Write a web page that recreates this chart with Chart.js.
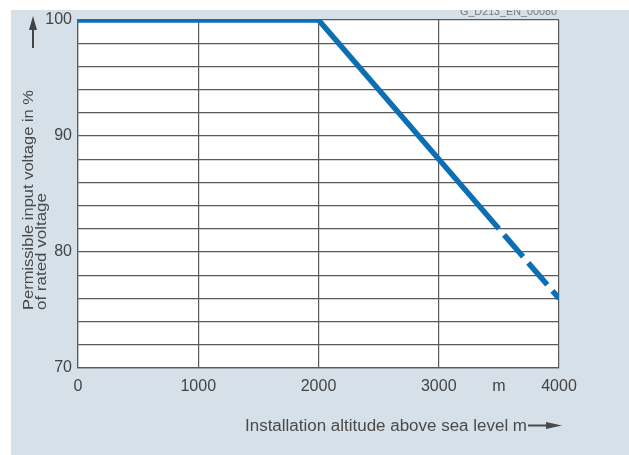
<!DOCTYPE html>
<html>
<head>
<meta charset="utf-8">
<script src="https://cdn.jsdelivr.net/npm/chart.js@4/dist/chart.umd.min.js"></script>
<style>
  html, body { margin: 0; padding: 0; background: #fff; }
  #wrap { width: 629px; height: 455px; }
</style>
</head>
<body>
<div id="wrap"><canvas id="grafico" width="629" height="455"></canvas></div>
<script>
// altitude in m, permissible input voltage in % of rated voltage
const altSolid = [0, 2000, 3500];
const voltSolid = [100, 100, 82];
const altDashed = [3500, 4000];
const voltDashed = [82, 76];
const xTicks = [0, 1000, 2000, 3000, 4000];
const yTicks = [70, 80, 90, 100];

const azul = '#0c6fb3';
const gris = '#5a5a5a';
const fuente = '"Liberation Sans", Arial, sans-serif';

function puntos(xs, ys) {
  return xs.map((x, i) => ({ x: x, y: ys[i] }));
}

// texto estirado para ocupar un ancho dado
function textoAncho(c, txt, x, y, ancho) {
  const w = c.measureText(txt).width;
  c.save();
  c.translate(x, y);
  c.scale(ancho / w, 1);
  c.fillText(txt, 0, 0);
  c.restore();
}

// fondo, flechas y textos extra
const extras = {
  id: 'extras',
  beforeDraw(chart) {
    const c = chart.ctx;
    c.save();
    c.fillStyle = '#fff';
    c.fillRect(0, 0, chart.width, chart.height);
    c.fillStyle = '#d6e0e8';
    c.fillRect(11, 10, chart.width - 11, chart.height - 10);
    const a = chart.chartArea;
    c.fillStyle = '#fff';
    c.fillRect(a.left, a.top, a.right - a.left, a.bottom - a.top);
    c.restore();
  },
  afterDraw(chart) {
    const c = chart.ctx;
    c.save();
    // codigo de la figura, cortado arriba
    c.beginPath();
    c.rect(0, 10, chart.width, chart.height);
    c.clip();
    c.fillStyle = '#7a7a7a';
    c.font = '11px ' + fuente;
    c.textAlign = 'left';
    c.textBaseline = 'alphabetic';
    textoAncho(c, 'G_D213_EN_00080', 460, 15, 97);
    c.restore();

    c.save();
    c.fillStyle = '#444';
    c.strokeStyle = '#444';
    // flecha vertical
    c.lineWidth = 2;
    c.beginPath();
    c.moveTo(33, 48);
    c.lineTo(33, 26);
    c.stroke();
    c.beginPath();
    c.moveTo(33, 16);
    c.lineTo(29, 30);
    c.lineTo(37, 30);
    c.closePath();
    c.fill();

    // titulo eje y
    c.font = '15px ' + fuente;
    c.fillStyle = '#4a4a4a';
    c.textAlign = 'left';
    c.textBaseline = 'alphabetic';
    c.save();
    c.translate(0, 310);
    c.rotate(-Math.PI / 2);
    textoAncho(c, 'Permissible input voltage in %', 0, 33, 220);
    textoAncho(c, 'of rated voltage', 0, 46, 117);
    c.restore();

    // titulo eje x
    c.font = '16px ' + fuente;
    textoAncho(c, 'Installation altitude above sea level m', 245, 431, 282);
    c.lineWidth = 2;
    c.strokeStyle = '#4a4a4a';
    c.beginPath();
    c.moveTo(528, 425.5);
    c.lineTo(550, 425.5);
    c.stroke();
    c.beginPath();
    c.moveTo(562, 425.5);
    c.lineTo(546, 422);
    c.lineTo(546, 429);
    c.closePath();
    c.fill();
    c.restore();
  }
};

const ctx = document.getElementById('grafico').getContext('2d');
new Chart(ctx, {
  type: 'line',
  data: {
    datasets: [{
      data: puntos(altSolid, voltSolid),
      borderColor: azul,
      borderWidth: 5.5,
      pointRadius: 0,
      borderCapStyle: 'butt',
      borderJoinStyle: 'miter',
      fill: false,
      tension: 0
    }, {
      data: puntos(altDashed, voltDashed),
      borderColor: azul,
      borderWidth: 5.5,
      borderDash: [29, 8],
      borderDashOffset: 29,
      pointRadius: 0,
      borderCapStyle: 'butt',
      fill: false,
      tension: 0
    }]
  },
  options: {
    responsive: false,
    animation: false,
    devicePixelRatio: 1,
    layout: { padding: { top: 20, right: 70, left: 0, bottom: 0 } },
    plugins: {
      legend: { display: false },
      tooltip: { enabled: false }
    },
    scales: {
      x: {
        type: 'linear',
        min: xTicks[0],
        max: xTicks[xTicks.length - 1],
        afterFit: s => { s.height = 87; },
        ticks: {
          stepSize: 500,
          autoSkip: false,
          maxRotation: 0,
          padding: 9,
          color: '#444',
          font: { family: fuente, size: 16 },
          callback: v => xTicks.includes(v) ? String(v) : (v === 3500 ? 'm' : '')
        },
        grid: {
          drawTicks: false,
          lineWidth: 1.2,
          color: c => (c.tick && c.tick.value % 1000 === 0) ? gris : 'rgba(0,0,0,0)'
        },
        border: { color: gris, width: 1.2 }
      },
      y: {
        min: yTicks[0],
        max: yTicks[yTicks.length - 1],
        afterFit: s => { s.width = 78; },
        ticks: {
          stepSize: 2,
          autoSkip: false,
          padding: 6,
          color: '#444',
          font: { family: fuente, size: 16 },
          callback: v => yTicks.includes(v) ? String(v) : ''
        },
        grid: { drawTicks: false, lineWidth: 1.2, color: gris },
        border: { color: gris, width: 1.2 }
      }
    }
  },
  plugins: [extras]
});
</script>
</body>
</html>
